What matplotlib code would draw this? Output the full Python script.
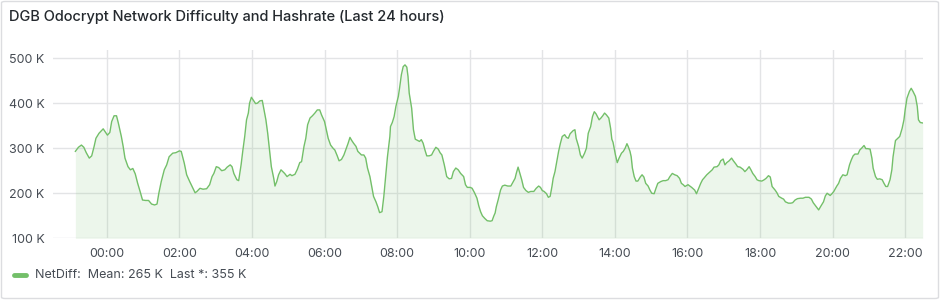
import matplotlib
matplotlib.use("Agg")
import matplotlib.pyplot as plt
from matplotlib.patches import FancyBboxPatch
from matplotlib.lines import Line2D

plt.rcParams['font.family'] = ['Inter', 'DejaVu Sans']

title = "DGB Odocrypt Network Difficulty and Hashrate (Last 24 hours)"
series_name = "NetDiff"
legend_mean = "265 K"
legend_last = "355 K"

# minutes relative to 00:00
minutes = [
    -52, -47, -42, -38, -34, -29, -25, -21, -18, -13, -6, -3, 1, 5, 8, 12, 16, 19, 24, 27, 30, 35, 39, 43, 47,
    51, 55, 59, 64, 69, 74, 79, 83, 86, 90, 95, 99, 103, 109, 114, 120,
    123, 128, 132, 137, 141, 146, 149, 154, 159, 165, 170, 174, 177, 181, 185, 190, 195, 199, 204, 207, 210,
    215, 218, 222, 225, 228, 231, 234, 236, 239, 242, 246, 249, 253, 257, 260, 263, 266, 269, 272, 276, 278,
    281, 284, 288, 291, 294,
    298, 303, 306, 311, 315, 319, 322, 326, 329, 332, 336, 340, 344, 348, 352, 355, 360, 363, 366, 370, 374,
    377, 381, 384, 388, 392, 396, 399, 402, 405, 408, 412, 415, 418, 421, 425, 428, 431, 435, 438, 441, 445,
    448, 451, 455, 458, 461, 464, 468,
    469, 472, 475, 478, 482, 484, 487, 490, 493, 496, 498, 500, 504, 507, 510, 514, 517, 520, 523, 526, 529,
    533, 537, 540, 544, 548, 551, 554, 558, 562, 566, 570, 573, 577, 581, 585, 590, 593, 596, 601, 604, 608,
    612, 615, 618, 621, 625, 629, 634, 637, 640,
    642, 644, 647, 651, 654, 658, 663, 668, 672, 675, 677, 680, 683, 686, 689, 693, 697, 701, 706, 710, 714,
    717, 720, 723, 727, 730, 733, 736, 738, 741, 743, 747, 750, 753, 757, 760, 763, 766, 771, 774, 776, 780,
    783, 786, 790, 793, 796, 800, 803, 806, 809, 814,
    817, 820, 823, 826, 830, 833, 835, 837, 841, 844, 847, 851, 854, 857, 860, 862, 865, 867, 869, 872, 875,
    878, 882, 885, 888, 891, 895, 898, 901, 905, 908, 911, 916, 920, 924, 928, 931, 935, 939, 943, 947, 950,
    953, 956, 961, 964, 967, 972, 975, 978, 982, 985, 987,
    992, 997, 1001, 1004, 1009, 1012, 1015, 1019, 1022, 1025, 1029, 1033, 1036, 1040, 1043, 1047, 1052, 1055,
    1058, 1062, 1065, 1068, 1072, 1075, 1078, 1083, 1087, 1090, 1094, 1097, 1100, 1105, 1108, 1111, 1116,
    1119, 1122, 1127, 1131, 1134, 1138, 1142, 1147, 1151, 1155, 1160,
    1161, 1165, 1168, 1172, 1177, 1180, 1185, 1188, 1191, 1196, 1199, 1202, 1207, 1210, 1213, 1217, 1221,
    1224, 1228, 1231, 1234, 1237, 1242, 1245, 1248, 1252, 1255, 1258, 1262, 1265, 1267, 1271, 1274, 1278,
    1282, 1285, 1288, 1291, 1295, 1298, 1300, 1304, 1308, 1311, 1315, 1318, 1320, 1323, 1327, 1330, 1333,
    1337, 1340, 1342, 1345, 1349,
]

netdiff_k = [
    293, 302, 307, 302, 290, 278, 283, 304, 322, 333, 343, 337, 329, 335, 359, 372, 372, 356, 326, 304, 278,
    259, 252, 255, 243, 222, 204, 185, 184, 184, 176, 174, 176, 200, 226, 252, 263, 281, 289, 290, 294,
    293, 267, 241, 226, 215, 201, 204, 211, 209, 210, 219, 237, 244, 259, 257, 250, 252, 258, 263, 259, 244,
    230, 228, 263, 296, 326, 363, 378, 400, 413, 407, 399, 400, 405, 406, 385, 363, 333, 296, 259, 233, 216,
    226, 241, 252, 248, 244,
    237, 242, 239, 242, 253, 268, 270, 304, 322, 352, 367, 372, 378, 385, 385, 374, 359, 341, 322, 307, 300,
    296, 283, 272, 275, 285, 300, 311, 324, 317, 311, 304, 293, 289, 285, 285, 278, 256, 237, 215, 193, 181,
    170, 157, 159, 193, 237, 281, 326,
    348, 357, 370, 393, 415, 433, 463, 481, 485, 480, 459, 422, 389, 341, 320, 317, 315, 319, 311, 296, 283,
    283, 285, 293, 302, 298, 290, 285, 263, 237, 232, 233, 248, 256, 252, 244, 237, 219, 213, 213, 211, 201,
    189, 172, 159, 150, 144, 139, 138, 139, 150,
    156, 170, 185, 207, 216, 218, 216, 216, 226, 233, 244, 258, 244, 230, 213, 206, 202, 204, 204, 211, 216,
    213, 206, 204, 199, 191, 193, 215, 233, 248, 263, 293, 311, 326, 330, 324, 322, 332, 339, 341, 322, 304,
    285, 278, 289, 300, 333, 348, 370, 381, 376, 363,
    367, 372, 378, 374, 367, 344, 320, 313, 285, 268, 278, 289, 293, 300, 310, 304, 293, 281, 256, 237, 227,
    227, 236, 241, 236, 222, 216, 207, 200, 199, 211, 222, 226, 228, 228, 230, 237, 244, 241, 239, 233, 222,
    219, 215, 219, 216, 213, 207, 199, 209, 222, 230, 233,
    241, 247, 252, 258, 259, 263, 272, 276, 263, 268, 272, 278, 272, 265, 259, 258, 253, 248,
    252, 259, 252, 244, 237, 230, 228, 227, 230, 233, 239, 236, 215, 207, 201, 193, 189,
    187, 181, 178, 178, 179, 185, 188, 189, 189, 191, 191,
    191, 187, 179, 172, 163, 170, 181, 194, 200, 195, 199, 204, 216, 222, 233, 241, 239,
    241, 263, 274, 283, 287, 287, 296, 300, 306, 299, 299, 298, 278, 256, 237, 231, 232,
    230, 222, 215, 215, 230, 252, 281, 317, 322, 326, 344, 363, 385, 411, 426, 433, 426,
    415, 393, 363, 357, 356,
]

x_ticks = [0, 120, 240, 360, 480, 600, 720, 840, 960, 1080, 1200, 1320]
x_tick_labels = ["00:00", "02:00", "04:00", "06:00", "08:00", "10:00", "12:00",
                 "14:00", "16:00", "18:00", "20:00", "22:00"]
y_ticks = [100, 200, 300, 400, 500]
y_tick_labels = ["100 K", "200 K", "300 K", "400 K", "500 K"]

line_color = "#73BF69"
text_color = "#464c54"
grid_color = "#e3e4e6"

fig = plt.figure(figsize=(9.4, 3.0), dpi=100)
fig.patch.set_facecolor("white")

border = FancyBboxPatch((1.5 / 940, 1.5 / 300), 937 / 940, 297 / 300,
                        boxstyle="round,pad=0,rounding_size=0.004",
                        transform=fig.transFigure, facecolor="none",
                        edgecolor="#dcdde0", linewidth=1.0, zorder=0)
fig.patches.append(border)

fig.text(9 / 940, 1 - 17 / 300, title, fontsize=10.5, color="#24292e",
         fontweight="medium", va="center", ha="left")

ax = fig.add_axes([53 / 940, (300 - 238.3) / 300, (923.3 - 53) / 940, (238.3 - 50) / 300])
ax.set_zorder(2)
ax.set_facecolor("none")
ax.plot(minutes, netdiff_k, color=line_color, linewidth=1.0, zorder=3)
ax.fill_between(minutes, netdiff_k, 100, color=line_color, alpha=0.13, linewidth=0, zorder=2)

ax.set_xlim(-89, 1350)
ax.set_ylim(100, 518)
ax.set_xticks(x_ticks)
ax.set_xticklabels(x_tick_labels)
ax.set_yticks(y_ticks)
ax.set_yticklabels(y_tick_labels)
ax.tick_params(axis="both", length=0, labelsize=9, colors=text_color)
ax.tick_params(axis="x", pad=7)
ax.tick_params(axis="y", pad=6)
ax.grid(True, color=grid_color, linewidth=1.0, zorder=1)
ax.set_axisbelow(True)
for s in ax.spines.values():
    s.set_visible(False)

fig.add_artist(Line2D([14 / 940, 26 / 940], [1 - 275 / 300, 1 - 275 / 300],
                      color=line_color, linewidth=3.5, solid_capstyle="round",
                      transform=fig.transFigure))
fig.text(35 / 940, 1 - 275 / 300,
         f"{series_name}:  Mean: {legend_mean}  Last *: {legend_last}",
         fontsize=9, color=text_color, va="center", ha="left")

fig.savefig("out.png", dpi=100)
